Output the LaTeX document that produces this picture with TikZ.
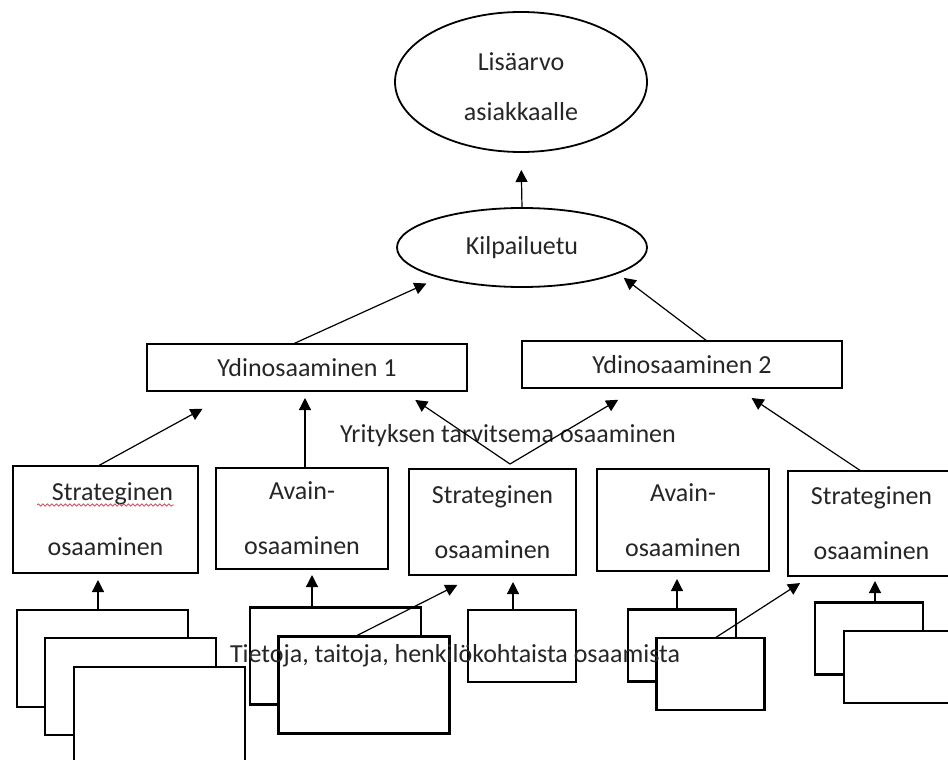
\documentclass[tikz,border=0pt]{standalone}
\usepackage{fontspec}
\setmainfont{Carlito}
\usetikzlibrary{shapes,arrows.meta,calc,decorations.pathmorphing}
\definecolor{squiggle}{RGB}{205,85,95}

\begin{document}
\begin{tikzpicture}[x=1pt,y=-1pt]
  \tikzstyle{every node}=[font=\fontsize{26}{55}\selectfont, text=black!85, outer sep=0pt]
  \tikzstyle{oval}=[ellipse, draw, line width=1.8pt, align=center]
  \tikzstyle{box}=[rectangle, draw, line width=2.2pt, fill=white, align=center]
  \tikzstyle{pile}=[box, minimum width=171pt, minimum height=97pt]
  \tikzstyle{smallpile}=[box, minimum width=108pt, minimum height=72pt]
  \tikzstyle{arr}=[-{Triangle[length=12pt,width=12pt]}, line width=1.2pt]
  \useasboundingbox (0,0) rectangle (948,760);

  % top of the chain
  \node[oval, minimum width=252pt, minimum height=140pt, font=\fontsize{26}{50}\selectfont] (lisa) at (521,82) {\rule{0pt}{27pt}Lisäarvo\\asiakkaalle};
  \node[oval, minimum width=250pt, minimum height=79pt] (kilpa) at (522,247.5) {Kilpailuetu};
  \node[box, minimum width=320pt, minimum height=47pt] (yd1) at (307,367.5) {Ydinosaaminen 1};
  \node[box, minimum width=320pt, minimum height=47pt] (yd2) at (682,364.5) {Ydinosaaminen 2};
  \node[anchor=base west, inner sep=0pt] (yrit) at (340,442) {Yrityksen tarvitsema osaaminen};

  % competence boxes
  \node[box, minimum width=185pt, minimum height=107pt] (s1) at (105.5,519.5) {\hspace*{14pt}Strateginen\\osaaminen};
  \node[box, minimum width=172pt, minimum height=101pt] (a1) at (302,518.5) {Avain-\\osaaminen};
  \node[box, minimum width=167pt, minimum height=106pt] (s2) at (492.5,522) {Strateginen\\osaaminen};
  \node[box, minimum width=172pt, minimum height=102pt] (a2) at (683,520) {Avain-\\osaaminen};
  \node[box, minimum width=167pt, minimum height=105pt] (s3) at (871.5,523.5) {Strateginen\\osaaminen};
  \draw[squiggle, line width=0.8pt, decorate, decoration={snake, amplitude=1.1pt, segment length=4.5pt}]
    ([xshift=-68.5pt,yshift=-39pt]s1.north) -- ([xshift=68.5pt,yshift=-39pt]s1.north);

  % piles of knowledge
  \node[pile] (k1a) at (102.5,658.5) {};
  \node[pile] (k1b) at (130.5,686.5) {};
  \node[pile] (k1c) at (159.5,715.5) {};
  \node[pile] (k2a) at (335.5,656) {};
  \node[pile] (k2b) at (364,685) {};
  \node[smallpile] (k3) at (522,646) {};
  \node[smallpile] (k4a) at (682,645.5) {};
  \node[smallpile] (k4b) at (710.5,674) {};
  \node[smallpile] (k5a) at (869,638.5) {};
  \node[smallpile] (k5b) at (898,667) {};

  % arrows
  \draw[arr, shorten >=18pt] (kilpa.north) -- (lisa.south);
  \draw[arr, shorten >=15pt] ([xshift=-14pt]yd1.north) -- (kilpa.200);
  \draw[arr, shorten >=8pt] ([xshift=25pt]yd2.north) -- (kilpa.345);
  \draw[arr, shorten >=37pt] ([xshift=-7.5pt]s1.north) -- ([xshift=-72pt]yd1.south);
  \draw[arr, shorten >=7pt] ([xshift=3pt]a1.north) -- ([xshift=3pt]a1.north |- yd1.south);
  \coordinate (vtx) at ([xshift=17.5pt,yshift=5pt]s2.north);
  \draw[arr, shorten >=16pt] (vtx) -- ([xshift=95pt]yd1.south);
  \draw[arr, shorten >=23pt] (vtx) -- ([xshift=-44pt]yd2.south);
  \draw[arr, shorten >=18pt] ([xshift=-10.5pt]s3.north) -- ([xshift=54.6pt]yd2.south);

  \draw[arr, shorten >=7pt] ([xshift=-4.5pt]k1a.north) -- ([xshift=-4.5pt]k1a.north |- s1.south);
  \draw[arr, shorten >=6pt] ([xshift=-23.5pt]k2a.north) -- ([xshift=-23.5pt]k2a.north |- a1.south);
  \draw[arr, shorten >=22pt] ([xshift=-9pt]k2b.north) -- ([xshift=-15.5pt]s2.south);
  \draw[arr, shorten >=7pt] ([xshift=-9pt]k3.north) -- ([xshift=-9pt]k3.north |- s2.south);
  \draw[arr, shorten >=8pt] ([xshift=-5pt]k4a.north) -- ([xshift=-5pt]k4a.north |- a2.south);
  \draw[arr, shorten >=13pt] ([xshift=4.5pt]k4b.north) -- ([xshift=-60.5pt]s3.south);
  \draw[arr, shorten >=5pt] ([xshift=6pt]k5a.north) -- ([xshift=6pt]k5a.north |- s3.south);

  \node[anchor=base west, inner sep=0pt] (tieto) at (230,662) {Tietoja, taitoja, henkilökohtaista osaamista};
\end{tikzpicture}
\end{document}
